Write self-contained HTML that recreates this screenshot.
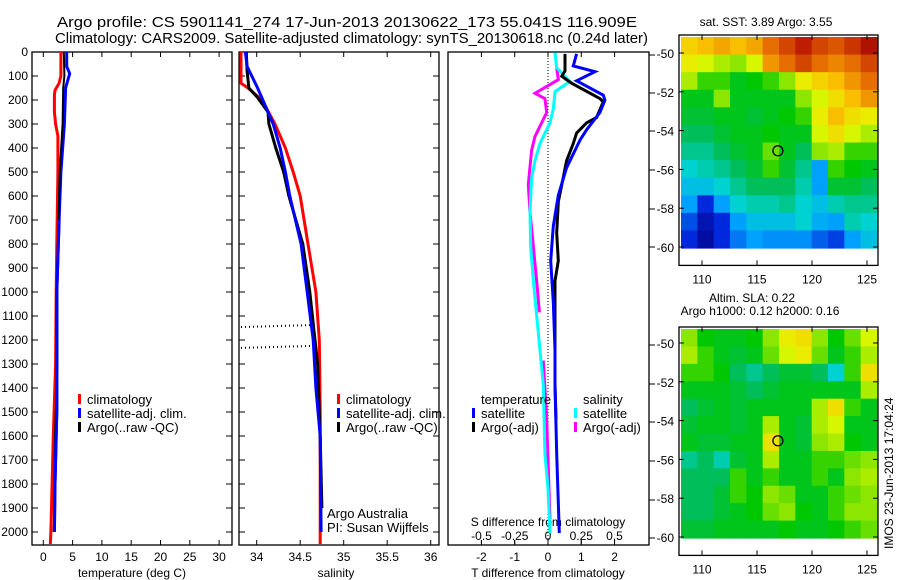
<!DOCTYPE html>
<html><head><meta charset="utf-8"><style>
body{margin:0;background:#fff}
svg{display:block;font-family:"Liberation Sans",sans-serif}
text{fill:#000}
</style></head><body>
<svg id="fig" width="900" height="580" viewBox="0 0 900 580"></svg>
<script>
// ---- data ----
const tClimDepth=[0,100,130,160,180,250,300,350,500,800,1000,1300,1600,1800,2000,2050];
const tClimVal=[3.0,3.0,2.7,2.0,1.9,1.9,2.1,2.5,2.5,2.3,2.2,2.1,1.7,1.5,1.3,1.2];
const tSatDepth=[0,60,90,150,300,500,700,1000,1500,1800,2000];
const tSatVal=[4.0,4.0,4.5,3.8,3.6,3.0,2.7,2.3,2.3,2.0,1.9];
const tArgoDepth=[0,100,150,300,500,800,1000,1300,1600,2000];
const tArgoVal=[3.5,3.6,3.4,3.3,2.8,2.5,2.4,2.4,2.0,1.8];
const sClimDepth=[0,130,150,200,300,400,500,600,800,1000,1200,1500,2050];
const sClimVal=[33.82,33.82,33.9,34.06,34.21,34.33,34.42,34.5,34.59,34.68,34.72,34.73,34.73];
const sSatDepth=[0,60,150,200,300,400,500,600,800,1000,1200,1400,1600,2000];
const sSatVal=[33.87,33.89,34.01,34.07,34.19,34.27,34.33,34.38,34.51,34.58,34.65,34.68,34.73,34.74];
const sArgoDepth=[0,80,150,190,250,300,400,500,600,800,1000,1100,1300,1600,1900];
const sArgoVal=[33.88,33.89,33.91,34.01,34.13,34.14,34.22,34.31,34.37,34.53,34.61,34.64,34.7,34.73,34.75];
const badSDepth=[1146,1233];
const dTSatDepth=[8,58,82,120,180,201,252,324,367,482,597,726,870,1042,1242,1387,1674,2004];
const dTSatVal=[0.86,0.76,1.41,0.86,1.66,1.71,1.56,1.16,0.96,0.56,0.31,0.16,0.08,0.16,0.21,0.21,0.26,0.34];
const dTArgoDepth=[8,79,101,130,194,208,273,295,338,381,453,625,754,870,954,1387,1530];
const dTArgoVal=[0.51,0.51,0.41,0.71,1.56,1.66,1.46,1.16,0.86,0.76,0.56,0.31,0.26,0.31,0.21,0.21,0.24];
const dSSatDepth=[3,65,123,165,237,295,381,453,525,668,812,956,1100,1243,1387,1674,1818,2004];
const dSSatVal=[0.053,0.065,0.165,0.053,0.04,0.015,-0.06,-0.098,-0.123,-0.135,-0.13,-0.11,-0.085,-0.06,-0.035,-0.023,0,0.015];
const dSArgoDepth=[65,115,172,194,252,309,352,410,553,668,812,956,1085,null,1286,1530,1946];
const dSArgoVal=[0.065,0.078,-0.098,-0.023,-0.01,-0.06,-0.098,-0.123,-0.148,-0.135,-0.11,-0.085,-0.065,null,-0.035,-0.01,0.015];
const depthTicks=[0,100,200,300,400,500,600,700,800,900,1000,1100,1200,1300,1400,1500,1600,1700,1800,1900,2000];
const tempTicks=[0,5,10,15,20,25,30];
const salTicks=[34,34.5,35,35.5,36];
const salTickLabels=["34","34.5","35","35.5","36"];
const dTTicks=[-2,-1,0,1,2];
const dSTicks=[-0.5,-0.25,0,0.25,0.5];
const dSTickLabels=["-0.5","-0.25","0","0.25","0.5"];
const latTicks=[-50,-52,-54,-56,-58,-60];
const lonTicks=[110,115,120,125];
const sstGrid=[
[.72,.75,.78,.75,.78,.85,.9,.95,.9,.88,.92,.97],
[.68,.65,.62,.6,.65,.8,.85,.9,.85,.82,.85,.9],
[.62,.55,.55,.5,.52,.55,.6,.68,.72,.75,.8,.85],
[.5,.5,.6,.5,.5,.5,.5,.6,.65,.7,.75,.8],
[.48,.48,.5,.5,.48,.5,.52,.55,.68,.75,.7,.68],
[.45,.45,.48,.5,.5,.52,.5,.5,.65,.7,.65,.62],
[.42,.42,.45,.48,.5,.58,.5,.45,.6,.62,.55,.55],
[.38,.4,.42,.45,.48,.55,.48,.42,.3,.55,.52,.5],
[.35,.35,.38,.42,.45,.45,.45,.4,.3,.48,.48,.45],
[.3,.15,.3,.38,.4,.4,.42,.38,.35,.4,.42,.42],
[.2,.08,.15,.3,.35,.35,.35,.38,.32,.3,.4,.38],
[.15,.05,.15,.25,.3,.28,.28,.28,.22,.18,.3,.35]];
const slaGrid=[
[.6,.52,.5,.5,.52,.6,.68,.7,.6,.52,.58,.65],
[.62,.55,.5,.48,.5,.58,.65,.68,.58,.5,.55,.62],
[.55,.55,.52,.45,.42,.45,.48,.48,.45,.38,.55,.7],
[.5,.5,.5,.48,.45,.48,.5,.5,.5,.5,.5,.62],
[.45,.48,.5,.48,.5,.5,.5,.5,.62,.7,.55,.5],
[.48,.5,.5,.48,.5,.62,.5,.48,.62,.65,.5,.5],
[.5,.48,.48,.5,.5,.7,.5,.48,.6,.62,.52,.5],
[.42,.45,.4,.48,.5,.62,.5,.5,.55,.55,.58,.6],
[.45,.45,.45,.55,.5,.55,.5,.5,.55,.5,.6,.62],
[.45,.45,.48,.55,.52,.6,.58,.5,.5,.55,.58,.6],
[.45,.45,.48,.5,.52,.58,.6,.52,.5,.55,.6,.6],
[.48,.48,.5,.5,.5,.5,.52,.5,.5,.52,.55,.58]];
const argoLon=116.9, argoLat=-55.04;

// ---- helpers ----
const NS="http://www.w3.org/2000/svg";
const svg=document.getElementById('fig');
function mk(tag,attrs,parent){const e=document.createElementNS(NS,tag);for(const k in attrs)e.setAttribute(k,attrs[k]);(parent||svg).appendChild(e);return e;}
function txt(x,y,s,anchor,size,parent){const t=mk('text',{x:x,y:y,'text-anchor':anchor||'start','font-size':size||12},parent);t.textContent=s;return t;}
const yD=d=>52+d*0.24;
const xT=t=>43.3+t*5.86;
const xS=s=>256.7+(s-34)*87;
const xdT=t=>548+t*33.3;
const xdS=s=>548+s*133;
function line(depths,vals,xf,color,name,w){
  let segs=[],cur=[];
  for(let i=0;i<depths.length;i++){
    if(depths[i]===null){if(cur.length)segs.push(cur);cur=[];continue;}
    cur.push(xf(vals[i]).toFixed(1)+','+yD(depths[i]).toFixed(1));
  }
  if(cur.length)segs.push(cur);
  segs.forEach(s=>{
    const p=mk('polyline',{points:s.join(' '),fill:'none',stroke:color,'stroke-width':w||3,'stroke-linejoin':'miter'});
    
    
  });
}
function frame(x1,y1,x2,y2,name){
  const r=mk('rect',{x:x1,y:y1,width:x2-x1,height:y2-y1,fill:'none',stroke:'#000','stroke-width':1.3});
  
  
}
function legend(x,y,color,label){
  const g=mk('g',{});
  
  
  mk('rect',{x:x,y:y-10,width:3,height:10,fill:color},g);
  txt(x+9,y,label,'start',13,g);
}

// ---- titles ----
const t1=txt(57,27,"Argo profile: CS 5901141_274 17-Jun-2013 20130622_173 55.041S 116.909E",'start',15);

t1.setAttribute('textLength','580');t1.setAttribute('lengthAdjust','spacingAndGlyphs');
const t2=txt(55,43,"Climatology: CARS2009. Satellite-adjusted climatology: synTS_20130618.nc (0.24d later)",'start',15);

t2.setAttribute('textLength','593');t2.setAttribute('lengthAdjust','spacingAndGlyphs');

const B=545;
// ---- panel 1 temperature ----
frame(32,52,232,B,'temperature-panel');
depthTicks.forEach(d=>{
  mk('line',{x1:32,y1:yD(d),x2:38,y2:yD(d),stroke:'#000'});
  mk('line',{x1:232,y1:yD(d),x2:226,y2:yD(d),stroke:'#000'});
  mk('line',{x1:239,y1:yD(d),x2:245,y2:yD(d),stroke:'#000'});
  mk('line',{x1:439,y1:yD(d),x2:433,y2:yD(d),stroke:'#000'});
  txt(28,yD(d)+4,String(d),'end',12);
});
tempTicks.forEach(t=>{
  mk('line',{x1:xT(t),y1:52,x2:xT(t),y2:57,stroke:'#000'});
  mk('line',{x1:xT(t),y1:B,x2:xT(t),y2:B-5,stroke:'#000'});
  txt(xT(t),561,String(t),'middle',12);
});
txt(132,577,"temperature (deg C)",'middle',12);
line(tClimDepth,tClimVal,xT,'#f00','temp-climatology-line');
line(tSatDepth,tSatVal,xT,'#00f','temp-satellite-line');
line(tArgoDepth,tArgoVal,xT,'#000','temp-argo-line',2);
line(tSatDepth.slice(6),tSatVal.slice(6),xT,'#00f','temp-satellite-line-deep');
legend(78,404,'#f00','climatology');
legend(78,418,'#00f','satellite-adj. clim.');
legend(78,432,'#000','Argo(..raw -QC)');

// ---- panel 2 salinity ----
frame(239,52,439,B,'salinity-panel');
salTicks.forEach((s,i)=>{
  mk('line',{x1:xS(s),y1:52,x2:xS(s),y2:57,stroke:'#000'});
  mk('line',{x1:xS(s),y1:B,x2:xS(s),y2:B-5,stroke:'#000'});
  txt(xS(s),561,salTickLabels[i],'middle',12);
});
txt(336,577,"salinity",'middle',12);
line(sClimDepth,sClimVal,xS,'#f00','sal-climatology-line');
line(sArgoDepth,sArgoVal,xS,'#000','sal-argo-line');
line(sSatDepth,sSatVal,xS,'#00f','sal-satellite-line');
badSDepth.forEach(d=>{
  const l=mk('line',{x1:241,y1:yD(d),x2:312,y2:yD(d)-2,stroke:'#000','stroke-width':2,'stroke-dasharray':'1,3'});
  
  
});
legend(337,404,'#f00','climatology');
legend(337,418,'#00f','satellite-adj. clim.');
legend(337,432,'#000','Argo(..raw -QC)');
txt(327,518,"Argo Australia",'start',13);
txt(327,532,"PI: Susan Wijffels",'start',13);

// ---- panel 3 differences ----
frame(448,52,649,B,'difference-panel');
[55,93,131,170,209,247,345,384,422,461,500,538].forEach(y=>mk('line',{x1:649,y1:y,x2:655,y2:y,stroke:'#000'}));
mk('line',{x1:548,y1:52,x2:548,y2:B,stroke:'#000','stroke-dasharray':'1,2'});
dTTicks.forEach(t=>{
  mk('line',{x1:xdT(t),y1:B,x2:xdT(t),y2:B-5,stroke:'#000'});
  mk('line',{x1:xdT(t),y1:52,x2:xdT(t),y2:57,stroke:'#000'});
  txt(xdT(t),561,String(t),'middle',12);
});
dSTicks.forEach((s,i)=>{
  mk('line',{x1:xdS(s),y1:540,x2:xdS(s),y2:544,stroke:'#000'});
  txt(xdS(s),540,dSTickLabels[i],'middle',12);
});
txt(548,526,"S difference from climatology",'middle',12);
txt(548,577,"T difference from climatology",'middle',12);
line(dSArgoDepth,dSArgoVal,xdS,'#f0f','dS-argo-line');
line(dSSatDepth,dSSatVal,xdS,'#0ff','dS-satellite-line');
line(dTArgoDepth,dTArgoVal,xdT,'#000','dT-argo-line');
line(dTSatDepth,dTSatVal,xdT,'#00f','dT-satellite-line');
txt(481,404,"temperature",'start',13);
legend(472,418,'#00f','satellite');
legend(472,432,'#000','Argo(-adj)');
txt(583,404,"salinity",'start',13);
legend(574,418,'#0ff','satellite');
legend(574,432,'#f0f','Argo(-adj)');

// ---- maps ----
function jet(v){
  const st=[[0,[0,0,130]],[.15,[0,40,220]],[.3,[0,160,255]],[.38,[0,210,210]],[.45,[0,190,90]],[.52,[0,200,0]],[.6,[140,230,0]],[.66,[230,250,0]],[.75,[250,190,0]],[.85,[230,110,0]],[.95,[190,30,0]],[1,[150,0,0]]];
  for(let i=1;i<st.length;i++){if(v<=st[i][0]){const a=st[i-1],b=st[i],f=(v-a[0])/(b[0]-a[0]);return 'rgb('+a[1].map((c,k)=>Math.round(c+(b[1][k]-c)*f)).join(',')+')';}}
  return 'rgb(150,0,0)';
}
function map(grid,top,latY0,name){
  const x0=681,x1=877,dataTop=top+2,dataBot=latY0+10*19.4+1;
  const lonX=l=>702+(l-110)*11, latY=l=>latY0+(-50-l)*19.4;
  const g=mk('g',{});
  
  
  const rows=grid.length,cols=grid[0].length;
  const cw=(x1-x0)/cols,ch=(dataBot-dataTop)/rows;
  grid.forEach((r,i)=>r.forEach((v,j)=>{
    const c=mk('rect',{x:(x0+j*cw).toFixed(2),y:(dataTop+i*ch).toFixed(2),width:(cw+0.6).toFixed(2),height:(ch+0.6).toFixed(2),fill:jet(v)},g);
    
    
  }));
  const fb=latY0+11*19.4-1;
  frame(679,top,878,fb,name+'-frame');
  latTicks.forEach(l=>{
    mk('line',{x1:679,y1:latY(l),x2:684,y2:latY(l),stroke:'#000'});
    mk('line',{x1:878,y1:latY(l),x2:873,y2:latY(l),stroke:'#000'});
    txt(674,latY(l)+5,String(l),'end',12);
  });
  lonTicks.forEach(l=>{
    mk('line',{x1:lonX(l),y1:fb,x2:lonX(l),y2:fb-5,stroke:'#000'});
    mk('line',{x1:lonX(l),y1:top,x2:lonX(l),y2:top+5,stroke:'#000'});
    txt(lonX(l),fb+18,String(l),'middle',12);
  });
  const m=mk('circle',{cx:lonX(argoLon),cy:latY(argoLat),r:5,fill:'none',stroke:'#000','stroke-width':1.3});
  
  
}
map(sstGrid,35,53,'sst-map');
txt(766,26,"sat. SST: 3.89 Argo: 3.55",'middle',12);
map(slaGrid,327,343,'sla-map');
txt(752,302,"Altim. SLA: 0.22",'middle',12);
txt(760,315,"Argo h1000: 0.12 h2000: 0.16",'middle',12);
const v=txt(0,0,"IMOS 23-Jun-2013 17:04:24",'start',12);
v.setAttribute('transform','translate(893,549) rotate(-90)');

</script>
</body></html>
